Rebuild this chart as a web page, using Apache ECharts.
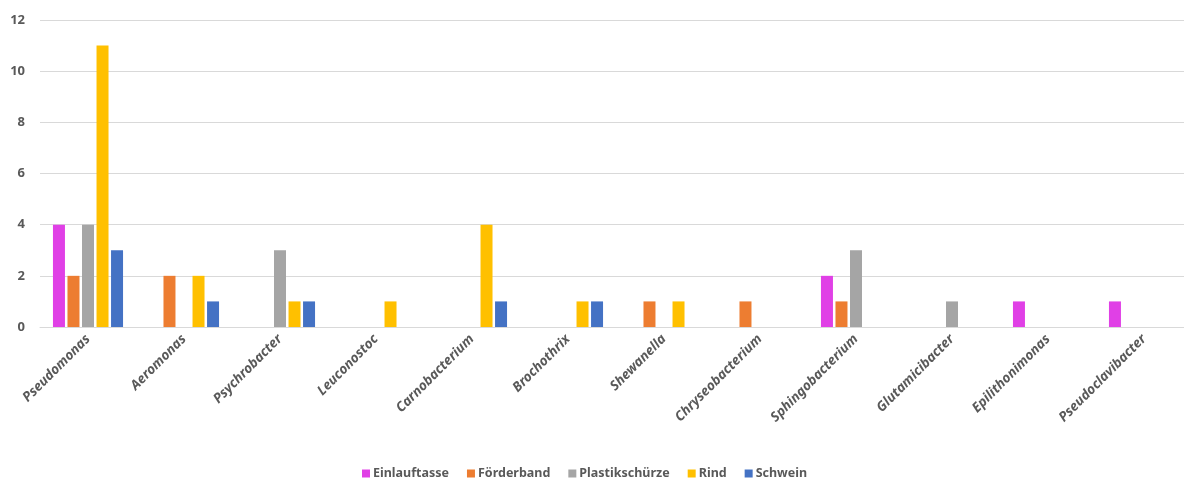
<!DOCTYPE html>
<html>
<head>
<meta charset="utf-8">
<script src="https://cdn.jsdelivr.net/npm/echarts@6/dist/echarts.min.js"></script>
<style>
html,body{margin:0;padding:0;background:#fff;overflow:hidden;width:1184px;height:478px;}
/* canvas is wider than the window so the plot area can run past the right edge */
#chart{width:1200px;height:478px;}
</style>
</head>
<body>
<div id="chart"></div>
<script>
// Bacterial genera found per source
const genera = ['Pseudomonas','Aeromonas','Psychrobacter','Leuconostoc','Carnobacterium','Brochothrix','Shewanella','Chryseobacterium','Sphingobacterium','Glutamicibacter','Epilithonimonas','Pseudoclavibacter'];
const einlauftasse   = [4,0,0,0,0,0,0,0,2,0,1,1];
const foerderband    = [2,2,0,0,0,0,1,1,1,0,0,0];
const plastikschuerze= [4,0,3,0,0,0,0,0,3,1,0,0];
const rind           = [11,2,1,1,4,1,1,0,0,0,0,0];
const schwein        = [3,1,1,0,1,1,0,0,0,0,0,0];
const yTicks = [0,2,4,6,8,10,12];

const seriesDefs = [
  {name:'Einlauftasse', data:einlauftasse, color:'#E040E6'},
  {name:'Förderband', data:foerderband, color:'#ED7D31'},
  {name:'Plastikschürze', data:plastikschuerze, color:'#A5A5A5'},
  {name:'Rind', data:rind, color:'#FFC000'},
  {name:'Schwein', data:schwein, color:'#4472C4'}
];

const font = '"Noto Sans", "Open Sans", sans-serif';
const chart = echarts.init(document.getElementById('chart'));
chart.setOption({
  animation:false,
  textStyle:{fontFamily:font},
  grid:{left:40, width:1152, top:20, bottom:151, containLabel:false},
  legend:{
    top:462, left:357,
    itemWidth:8, itemHeight:8, itemGap:18,
    icon:'rect',
    textStyle:{fontFamily:font, fontSize:12.5, fontWeight:'bold', color:'#595959', padding:[0,0,0,-2]},
    data:seriesDefs.map(s=>s.name)
  },
  xAxis:{
    type:'category', data:genera,
    axisLine:{lineStyle:{color:'#D9D9D9'}},
    axisTick:{show:false},
    axisLabel:{rotate:45, interval:0, fontStyle:'italic', fontWeight:'bold', fontSize:13.5, color:'#595959', fontFamily:font, margin:10}
  },
  yAxis:{
    type:'value', min:yTicks[0], max:yTicks[yTicks.length-1], interval:2,
    axisLine:{show:false}, axisTick:{show:false},
    splitLine:{lineStyle:{color:'#D9D9D9'}},
    axisLabel:{fontWeight:'bold', fontSize:13, color:'#595959', fontFamily:font, margin:15}
  },
  series:seriesDefs.map(s=>({
    name:s.name, type:'bar', data:s.data,
    barWidth:12, barGap:'21%',
    itemStyle:{color:s.color}
  }))
});
</script>
</body>
</html>
